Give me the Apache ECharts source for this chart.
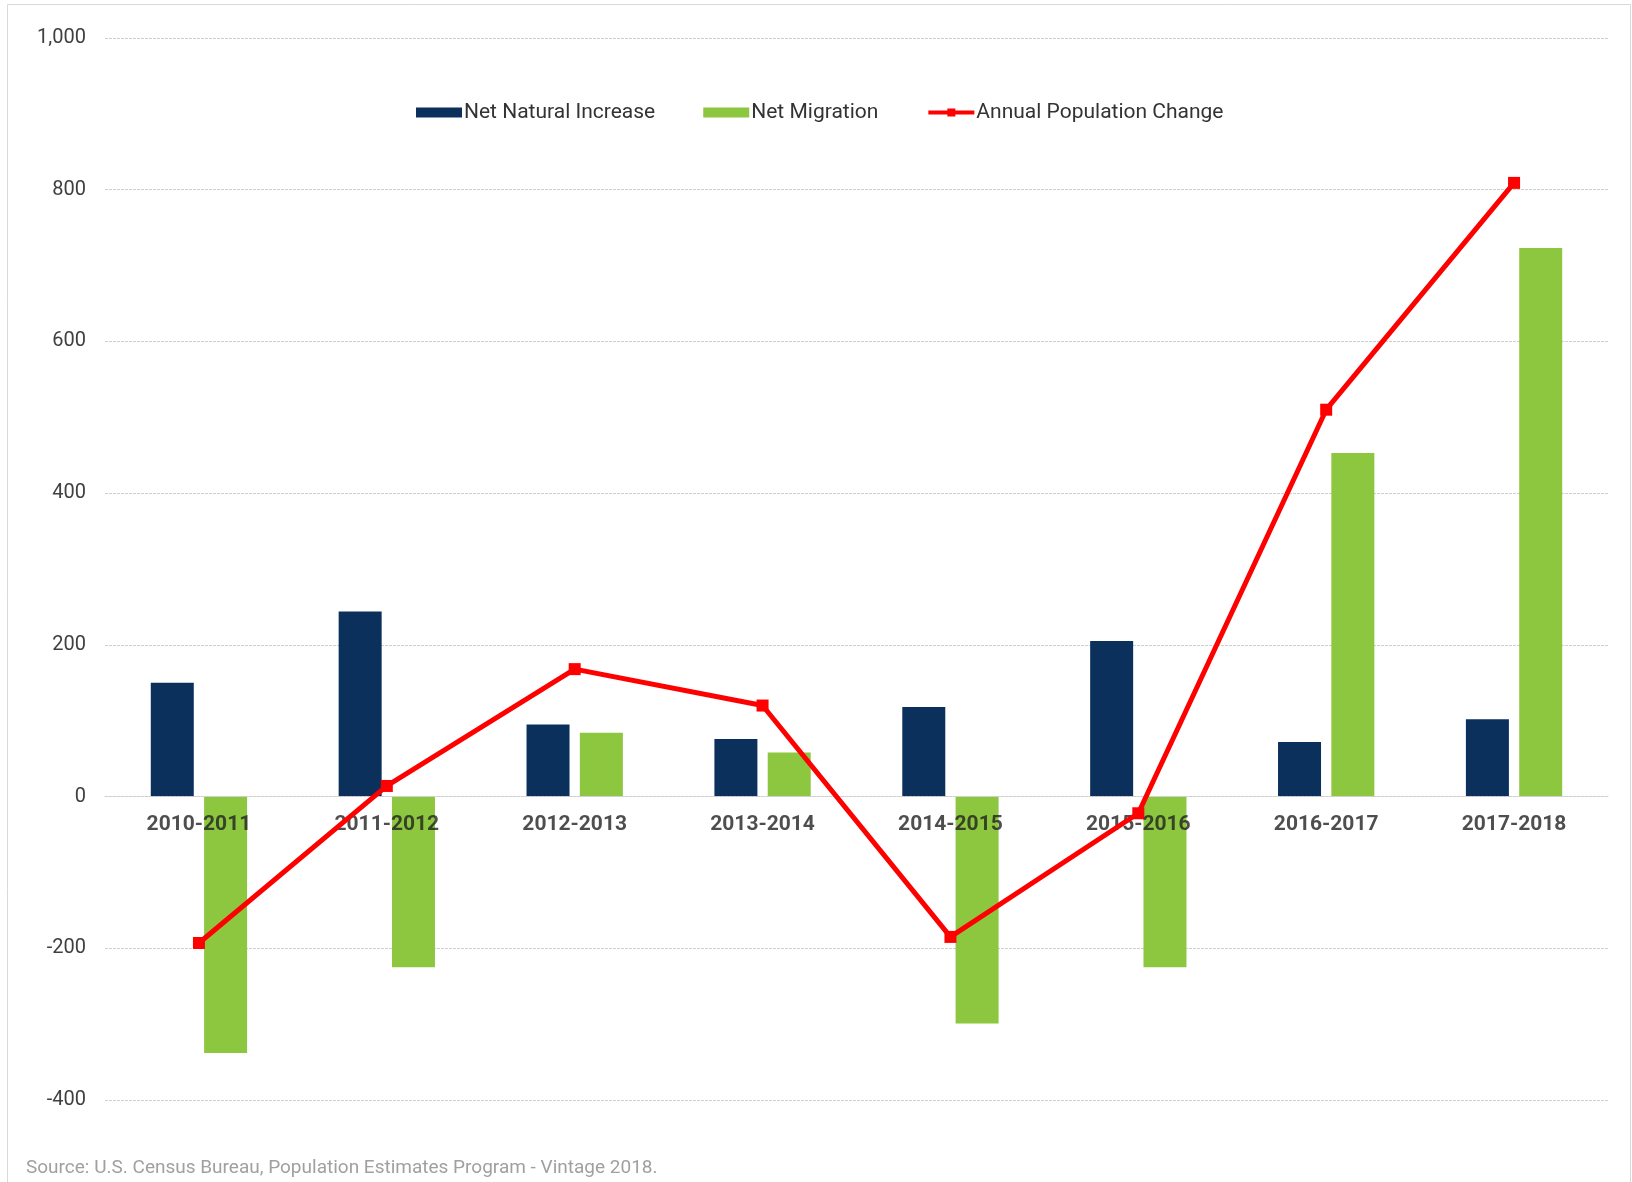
<!DOCTYPE html>
<html>
<head>
<meta charset="utf-8">
<script src="https://cdn.jsdelivr.net/npm/echarts@6/dist/echarts.min.js"></script>
<style>
html,body{margin:0;padding:0;background:#fff;}
#chart{width:1632px;height:1182px;}
</style>
</head>
<body>
<div id="chart"></div>
<script>
const categories = ['2010-2011','2011-2012','2012-2013','2013-2014','2014-2015','2015-2016','2016-2017','2017-2018'];
const netNaturalIncrease = [150, 244, 95, 76, 118, 205, 72, 102];
const netMigration = [-338, -225, 84, 58, -299, -225, 453, 723];
const annualChange = [-193, 14, 168, 120, -185, -22, 510, 809];
const yTicks = { min: -400, max: 1000, interval: 200 };
const sourceText = 'Source: U.S. Census Bureau, Population Estimates Program - Vintage 2018.';

const chart = echarts.init(document.getElementById('chart'), null, {renderer:'canvas'});
const gridLine = { color: '#cfcfcf', width: 1, type: [3, 1] };
chart.setOption({
  animation: false,
  textStyle: { fontFamily: 'Roboto' },
  grid: { left: 105, right: 24, top: 38, bottom: 82, containLabel: false },
  legend: {
    left: 411, top: 97,
    itemWidth: 46, itemHeight: 10, itemGap: 48,
    textStyle: { fontSize: 21, color: '#333', fontFamily: 'Roboto', padding: [0,0,0,-3] },
    data: [
      { name: 'Net Natural Increase', icon: 'rect' },
      { name: 'Net Migration', icon: 'rect' },
      { name: 'Annual Population Change', lineStyle: { width: 4, color: '#ff0000' } }
    ]
  },
  xAxis: {
    type: 'category', data: categories, z: 10,
    axisLine: { show: true, onZero: true, lineStyle: gridLine },
    axisTick: { show: false },
    axisLabel: { show: false }
  },
  yAxis: {
    type: 'value', min: yTicks.min, max: yTicks.max, interval: yTicks.interval,
    axisLine: { show: false }, axisTick: { show: false },
    splitLine: { show: true, lineStyle: gridLine },
    axisLabel: { fontSize: 20, color: '#404040', margin: 19,
      formatter: v => v.toLocaleString('en-US') }
  },
  series: [
    { name: 'Net Natural Increase', type: 'bar', data: netNaturalIncrease,
      barWidth: 43, barGap: '24%', itemStyle: { color: '#0b305c' }, z: 2 },
    { name: 'Net Migration', type: 'bar', data: netMigration,
      barWidth: 43, barGap: '24%', itemStyle: { color: '#8dc63f' }, z: 2 },
    { name: 'categoryLabels', type: 'scatter', z: 10, silent: true,
      data: categories.map(c => [c, 0]), symbolSize: 0,
      label: { show: true, position: 'bottom', distance: 18, formatter: p => p.value[0],
        fontSize: 21, fontWeight: 'bold', color: '#222', fontFamily: 'Roboto' } },
    { name: 'Annual Population Change', type: 'line', data: annualChange, z: 20,
      symbol: 'rect', symbolSize: 12, lineStyle: { color: '#ff0000', width: 5 },
      itemStyle: { color: '#ff0000' } }
  ],
  graphic: [
    { type: 'rect', shape: { x: 7.5, y: 4.5, width: 1623, height: 1200 },
      style: { fill: 'none', stroke: '#d9d9d9', lineWidth: 1 }, silent: true },
    { type: 'text', left: 26, top: 1159,
      style: { text: sourceText, fontSize: 19, fill: '#a0a0a0', fontFamily: 'Roboto' } }
  ]
});
</script>
</body>
</html>
